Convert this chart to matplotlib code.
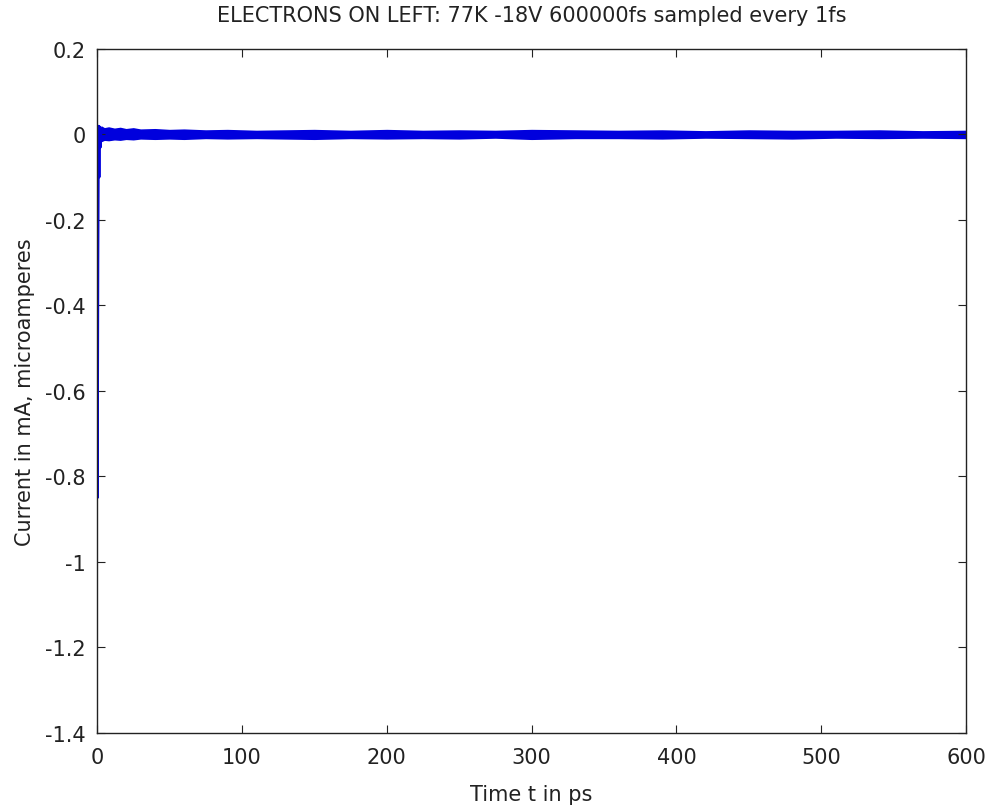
"""Current transient: electrons on left, 77K -18V, 600000 fs sampled every 1 fs."""
import numpy as np
import matplotlib
matplotlib.use("Agg")
import matplotlib.pyplot as plt

plt.rcParams["font.family"] = ["DejaVu Sans"]

# initial transient (t in ps, current in mA/uA)
SPIKE_T = [0.0, 0.4, 0.8, 1.2, 1.6, 2.0, 2.5, 3.0]
SPIKE_I = [0.0, -0.85, -0.30, 0.020, -0.10, 0.018, -0.03, 0.012]

# noise band envelope after the transient
BAND_T = [3, 5, 8, 12, 16, 20, 25, 30, 40, 50, 60, 75, 90, 110, 130, 150,
          175, 200, 225, 250, 275, 300, 330, 360, 390, 420, 450, 480, 510,
          540, 570, 600]
BAND_HI = [0.018, 0.014, 0.016, 0.013, 0.015, 0.012, 0.014, 0.011, 0.012,
           0.010, 0.011, 0.009, 0.010, 0.008, 0.009, 0.010, 0.008, 0.010,
           0.008, 0.009, 0.008, 0.010, 0.009, 0.008, 0.009, 0.007, 0.009,
           0.008, 0.008, 0.009, 0.007, 0.008]
BAND_LO = [-0.015, -0.012, -0.013, -0.011, -0.012, -0.010, -0.011, -0.009,
           -0.010, -0.009, -0.010, -0.008, -0.009, -0.008, -0.009, -0.010,
           -0.008, -0.009, -0.008, -0.009, -0.007, -0.010, -0.008, -0.008,
           -0.009, -0.007, -0.008, -0.009, -0.007, -0.008, -0.007, -0.008]

BLUE = "#0000dd"
FS = 15

fig = plt.figure(figsize=(9.88, 8.12), dpi=100)
ax = fig.add_axes([0.0982, 0.0961, 0.8796, 0.8424])

ax.fill_between(BAND_T, BAND_LO, BAND_HI, color=BLUE, lw=1.2, edgecolor=BLUE)
ax.plot(SPIKE_T, SPIKE_I, color=BLUE, lw=1.6)

ax.set_xlim(0, 600)
ax.set_ylim(-1.4, 0.2)
ax.set_xticks(np.arange(0, 601, 100))
ax.set_yticks(np.arange(-1.4, 0.21, 0.2))
ax.set_yticklabels(["-1.4", "-1.2", "-1", "-0.8", "-0.6", "-0.4", "-0.2",
                    "0", "0.2"])
ax.tick_params(direction="in", top=True, right=True, length=6, width=0.8,
               labelsize=FS, colors="#222222")
ax.tick_params(axis="x", pad=10)
ax.tick_params(axis="y", pad=8)
for s in ax.spines.values():
    s.set_linewidth(1.0)
    s.set_color("#222222")

ax.set_title("ELECTRONS ON LEFT: 77K -18V 600000fs sampled every 1fs",
             fontsize=FS, pad=20, color="#222222")
ax.set_xlabel("Time t in ps", fontsize=FS, color="#222222")
ax.set_ylabel("Current in mA, microamperes", fontsize=FS, color="#222222")
ax.xaxis.set_label_coords(0.5, -0.074)
ax.xaxis.label.set_va("top")
ax.yaxis.set_label_coords(-0.083, 0.5)
ax.yaxis.label.set_va("center")

fig.savefig("out.png", dpi=100)
